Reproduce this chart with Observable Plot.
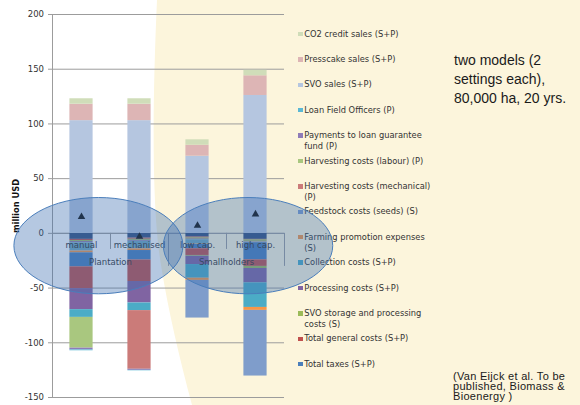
<!DOCTYPE html>
<html><head><meta charset="utf-8">
<script src="https://cdn.jsdelivr.net/npm/d3@7"></script>
<script src="https://cdn.jsdelivr.net/npm/@observablehq/plot@0.6"></script>
<style>
html,body{margin:0;padding:0;background:#fff;}
#wrap{position:relative;width:580px;height:405px;overflow:hidden;font-family:"DejaVu Sans",sans-serif;}
#bg{position:absolute;left:0;top:0;}
#legend{position:absolute;left:0;top:0;width:580px;height:405px;}
.item{position:absolute;left:298px;display:flex;align-items:flex-start;font-size:8.3px;line-height:10.7px;color:#333;white-space:pre;}
.sw{width:4.5px;height:4.5px;margin-top:3.1px;margin-right:1.8px;flex:none;}
#chart{position:absolute;left:0;top:0;}
.note{position:absolute;font-family:"Liberation Sans",Arial,sans-serif;color:#1a1a1a;white-space:pre;}
</style></head>
<body><div id="wrap">
<svg id="bg" width="580" height="405"><path d="M157,0 C152,110 152,210 161,265 C168,310 180,360 192,405 L580,405 L580,0 Z" fill="#FCF5DC"/></svg>
<div id="legend"></div>
<div class="note" id="models" style="left:454px;top:51px;font-size:14px;line-height:18.8px;"></div>
<div class="note" id="cite" style="left:453px;top:370.8px;font-size:11px;letter-spacing:0.3px;line-height:10px;"></div>
<div id="chart"></div>
</div>
<script>
// ---- categories ----
const categories = ["manual", "mechanised", "low cap.", "high cap."];
const groupNames = ["Plantation", "Smallholders"];
const groupCenters = [1, 3];
const yTicks = [-150, -100, -50, 0, 50, 100, 150, 200];

// ---- series values (million USD), per category ----
// series stacked first (nearest zero), not listed in the (truncated) legend
const series1 = [-5.5, -4.4, -3.4, -5.5];
const series2 = [-1.1, -1.0, -0.8, -0.5];
const series3 = [-1.0, -1.0, -1.0, -1.3];
const series4 = [-1.0, -0.8, -0.6, -0.4];
const series5 = [-7.6, -7.0, -4.0, -0.5];
const series6 = [-1.6, -1.5, -0.3, -0.3];
const totalTaxes = [-12.8, -8.6, -4.0, -15.7];
const totalGeneral = [-19.9, -19.7, -6.1, -6.0];
const svoStorage = [0, 0, -0.7, -1.9];
const processing = [-19.2, -19.6, -7.6, -13.1];
const collection = [-7.1, -7.0, -12.5, -22.5];
const farmingPromotion = [0, 0, -2.0, -2.7];
const feedstock = [0, 0, -34.4, -60.0];
const harvestMech = [0, -53.6, 0, 0];
const harvestLabour = [-28.1, 0, 0, 0];
const loanPayments = [-1.6, -1.0, 0, 0];
const loanOfficers = [-0.8, -0.4, 0, 0];
const svoSales = [103, 103, 70.5, 126];
const presscakeSales = [15, 15, 10, 18];
const co2Sales = [5, 5, 5, 5];
// net result (triangles)
const net = [15, -3, 7, 17.5];

const seriesNames = ["Series 1", "Series 2", "Series 3", "Series 4", "Series 5", "Series 6",
  "Total taxes (S+P)", "Total general costs (S+P)", "SVO storage and processing costs (S)",
  "Processing costs (S+P)", "Collection costs (S+P)", "Farming promotion expenses (S)",
  "Feedstock costs (seeds) (S)", "Harvesting costs (mechanical) (P)", "Harvesting costs (labour) (P)",
  "Payments to loan guarantee fund (P)", "Loan Field Officers (P)", "SVO sales (S+P)",
  "Presscake sales (S+P)", "CO2 credit sales (S+P)"];
const seriesValues = [series1, series2, series3, series4, series5, series6, totalTaxes, totalGeneral,
  svoStorage, processing, collection, farmingPromotion, feedstock, harvestMech, harvestLabour,
  loanPayments, loanOfficers, svoSales, presscakeSales, co2Sales];
const seriesColors = ["#34507F", "#C0504D", "#9BBB59", "#8064A2", "#6FA7BE", "#F79646",
  "#4A7EBB", "#C0504D", "#9BBB59", "#8064A2", "#4BACC6", "#F79646",
  "#7F9DCB", "#CB7B79", "#A9C77F", "#8E7CB8", "#5BB8D4", "#B5C6E0", "#DDB5B5", "#D0DDB9"];

// legend (as shown, top to bottom)
const legendLabels = ["CO2 credit sales (S+P)", "Presscake sales (S+P)", "SVO sales (S+P)",
  "Loan Field Officers (P)", "Payments to loan guarantee\nfund (P)", "Harvesting costs (labour) (P)",
  "Harvesting costs (mechanical)\n(P)", "Feedstock costs (seeds) (S)", "Farming promotion expenses\n(S)",
  "Collection costs (S+P)", "Processing costs (S+P)", "SVO storage and processing\ncosts (S)",
  "Total general costs (S+P)", "Total taxes (S+P)"];
const legendSeries = ["CO2 credit sales (S+P)", "Presscake sales (S+P)", "SVO sales (S+P)",
  "Loan Field Officers (P)", "Payments to loan guarantee fund (P)", "Harvesting costs (labour) (P)",
  "Harvesting costs (mechanical) (P)", "Feedstock costs (seeds) (S)", "Farming promotion expenses (S)",
  "Collection costs (S+P)", "Processing costs (S+P)", "SVO storage and processing costs (S)",
  "Total general costs (S+P)", "Total taxes (S+P)"];

const noteText = "two models (2\nsettings each),\n80,000 ha, 20 yrs.";
const citeText = "(Van Eijck et al. To be\npublished, Biomass &\nBioenergy )";

// annotation ellipses (data coordinates)
const ellipses = [
  {cx: 0.8, cy: -11.7, rx: 1.457, ry: 44},
  {cx: 3.38, cy: -11.7, rx: 1.46, ry: 44}
];

// ---- rows ----
const rows = [];
seriesNames.forEach((s, si) => seriesValues[si].forEach((v, ci) =>
  rows.push({series: s, cat: categories[ci], xc: ci + 0.5, x1: ci + 0.3, x2: ci + 0.7, value: v})));

const font = "DejaVu Sans, sans-serif";
const gridColor = "#9c9c9c";

function ellipseMark(index, scales) {
  const g = d3.create("svg:g");
  for (const e of ellipses) {
    const cx = scales.x(e.cx), cy = scales.y(e.cy);
    const rx = Math.abs(scales.x(e.cx + e.rx) - cx), ry = Math.abs(scales.y(e.cy + e.ry) - cy);
    g.append("ellipse").attr("cx", cx).attr("cy", cy).attr("rx", rx).attr("ry", ry)
      .attr("fill", "#3C6FB0").attr("fill-opacity", 0.38)
      .attr("stroke", "#4A7EBB").attr("stroke-width", 1);
  }
  return g.node();
}

const plot = Plot.plot({
  width: 580, height: 405,
  marginLeft: 52, marginRight: 296, marginTop: 14, marginBottom: 8,
  style: {background: "none", overflow: "visible", fontFamily: font},
  x: {type: "linear", domain: [0, 4], axis: null},
  y: {domain: [-150, 200], axis: null},
  color: {domain: seriesNames, range: seriesColors},
  marks: [
    Plot.gridY(yTicks, {stroke: gridColor, strokeOpacity: 1, strokeWidth: 1}),
    Plot.ruleX([0], {stroke: gridColor, strokeWidth: 1}),
    Plot.axisY(yTicks, {tickSize: 4, tickPadding: 4.5, stroke: gridColor, fill: "#333", fontSize: 8.5,
      tickFormat: d => String(d), label: null}),
    Plot.ruleY([0], {stroke: gridColor, strokeWidth: 1}),
    Plot.rectY(rows, Plot.stackY({x: "xc", x1: "x1", x2: "x2", y: "value", z: "series", fill: "series"})),
    Plot.ruleX([1, 3], {y1: 0, y2: -14.7, stroke: gridColor}),
    Plot.ruleX([2, 4], {y1: 0, y2: -30.2, stroke: gridColor}),
    Plot.text(categories, {x: (d, i) => i + 0.5, y: 0, dy: 11.5, text: d => d, fontSize: 8.5, fill: "#333"}),
    Plot.text(groupNames, {x: (d, i) => groupCenters[i], y: 0, dy: 28.5, text: d => d, fontSize: 8.5, fill: "#333"}),
    Plot.dot(net, {x: (d, i) => i + 0.5, y: d => d, symbol: "triangle", r: 2.8, fill: "#111", stroke: null}),
    Plot.text(["million USD"], {frameAnchor: "left", dx: -35.7, rotate: -90, textAnchor: "middle", text: d => d,
      fontWeight: "bold", fontSize: 8.3, fill: "#111"}),
    ellipseMark
  ]
});
document.getElementById("chart").appendChild(plot);

// legend
const colorOf = new Map(seriesNames.map((s, i) => [s, seriesColors[i]]));
const leg = d3.select("#legend");
legendLabels.forEach((lab, i) => {
  const it = leg.append("div").attr("class", "item").style("top", (34 + i * 25.4 - 5.35) + "px");
  it.append("div").attr("class", "sw").style("background", colorOf.get(legendSeries[i]));
  it.append("div").text(lab);
});
document.getElementById("models").textContent = noteText;
document.getElementById("cite").textContent = citeText;
</script>
</body></html>
